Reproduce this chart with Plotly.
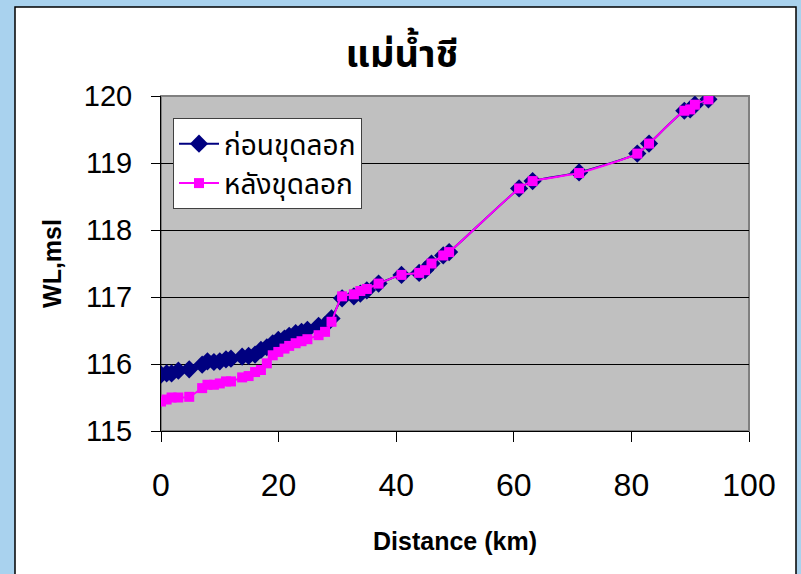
import plotly.graph_objects as go

# Distance along the river (km)
distance_km = [0, 0.96, 1.8, 2.95, 4.8, 7.0, 7.9, 9.0, 10.0, 11.05, 11.9, 13.8, 14.9,
               16.0, 17.0, 18.0, 19.0, 19.95, 21.0, 21.8, 22.9, 23.9, 24.9, 26.8,
               27.9, 29.0, 30.8, 32.8, 33.9, 35.0, 37.0, 40.9, 43.9, 44.9, 46.0,
               48.0, 49.0, 60.9, 63.2, 71.1, 81.0, 83.0, 89.0, 90.0, 90.8, 93.1]

# Water level before dredging (m msl)
wl_before = [115.84, 115.86, 115.86, 115.90, 115.92, 115.99, 116.04, 116.03, 116.04,
             116.07, 116.08, 116.11, 116.12, 116.14, 116.21, 116.25, 116.31, 116.36,
             116.38, 116.42, 116.46, 116.48, 116.51, 116.57, 116.58, 116.68, 116.98,
             117.01, 117.05, 117.10, 117.20, 117.33, 117.36, 117.40, 117.50, 117.62,
             117.67, 118.62, 118.73, 118.86, 119.14, 119.29, 119.78, 119.80, 119.87,
             119.95]

# Water level after dredging (m msl)
wl_after = [115.44, 115.47, 115.50, 115.50, 115.51, 115.64, 115.69, 115.69, 115.71,
            115.74, 115.74, 115.80, 115.82, 115.88, 115.91, 116.01, 116.13, 116.18,
            116.23, 116.27, 116.31, 116.34, 116.37, 116.43, 116.48, 116.63, 117.01,
            117.04, 117.09, 117.12, 117.20, 117.33, 117.36, 117.40, 117.50, 117.62,
            117.67, 118.62, 118.73, 118.85, 119.14, 119.29, 119.78, 119.80, 119.87,
            119.95]

series_names = ["ก่อนขุดลอก", "หลังขุดลอก"]
chart_title = "แม่น้ำชี"
x_title = "Distance (km)"
y_title = "WL,msl"
x_ticks = [0, 20, 40, 60, 80, 100]
y_ticks = [115, 116, 117, 118, 119, 120]

THAI = "Tahoma, 'Noto Sans Thai', 'Liberation Sans', sans-serif"
ARIAL = "'Liberation Sans', Arial, sans-serif"

fig = go.Figure()
fig.add_trace(go.Scatter(
    x=distance_km, y=wl_before, name=series_names[0], mode="lines+markers",
    line=dict(color="#000080", width=2, shape="spline", smoothing=0.6),
    marker=dict(symbol="diamond", size=14, color="#000080"),
))
fig.add_trace(go.Scatter(
    x=distance_km, y=wl_after, name=series_names[1], mode="lines+markers",
    line=dict(color="#FF00FF", width=2, shape="spline", smoothing=0.6),
    marker=dict(symbol="square", size=10, color="#FF00FF"),
))

# plot area geometry in pixels
L, R, T, B = 161, 749, 96, 431
W, H = 801, 574
pw, ph = R - L, B - T


def px_x(p):
    return (p - L) / pw


def px_y(p):
    return (B - p) / ph


fig.update_layout(
    width=W, height=H,
    margin=dict(l=L, r=W - R, t=T, b=H - B, pad=0),
    paper_bgcolor="#A9D2EE",
    plot_bgcolor="rgba(0,0,0,0)",
    showlegend=True,
    title=dict(text=chart_title, x=402 / W, xref="container", xanchor="center",
               y=1 - 54 / H, yanchor="middle",
               font=dict(family=THAI, size=38, color="black", weight="bold")),
    legend=dict(x=px_x(173), y=px_y(118), xanchor="left", yanchor="top",
                bgcolor="white", bordercolor="#404040", borderwidth=1,
                font=dict(family=THAI, size=28, color="black"),
                itemwidth=40, tracegroupgap=0),
    shapes=[
        # white chart frame
        dict(type="rect", xref="paper", yref="paper", layer="below",
             x0=px_x(15), x1=px_x(796), y0=px_y(590), y1=px_y(7),
             fillcolor="white", line=dict(color="black", width=1.5)),
        # grey plot area
        dict(type="rect", xref="x domain", yref="y domain", layer="below",
             x0=0, x1=1, y0=0, y1=1,
             fillcolor="#C0C0C0", line=dict(color="#808080", width=2)),
    ],
    xaxis=dict(range=[0, 100], tickvals=x_ticks, showgrid=False, zeroline=False,
               showline=True, linecolor="black", linewidth=1,
               ticks="outside", ticklen=10, tickcolor="black",
               ticklabelstandoff=16,
               tickfont=dict(family=ARIAL, size=32, color="black"),
               title=dict(text=x_title, standoff=30,
                          font=dict(family=ARIAL, size=25, color="black", weight="bold"))),
    yaxis=dict(range=[115, 120], tickvals=y_ticks, showgrid=True, gridcolor="black",
               gridwidth=1, zeroline=False,
               showline=True, linecolor="black", linewidth=1,
               ticks="outside", ticklen=9, tickcolor="black",
               ticklabelstandoff=13,
               tickfont=dict(family=ARIAL, size=29, color="black"),
               title=dict(text=y_title, standoff=15,
                          font=dict(family=ARIAL, size=25, color="black", weight="bold"))),
)

fig.write_html("out.html")
